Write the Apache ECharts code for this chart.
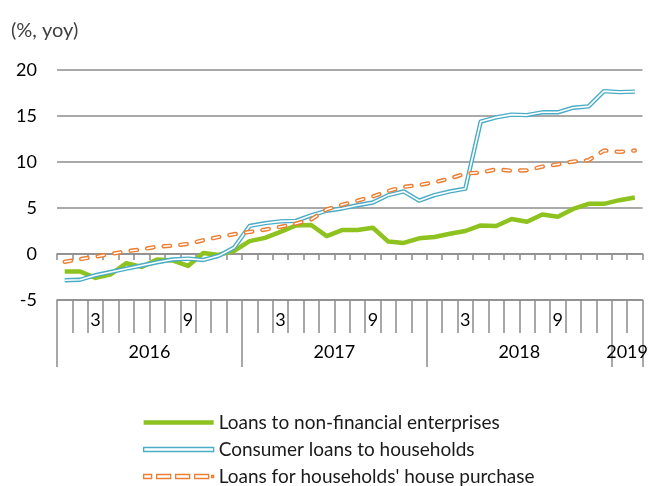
<!DOCTYPE html>
<html>
<head>
<meta charset="utf-8">
<script src="https://cdn.jsdelivr.net/npm/echarts@6/dist/echarts.min.js"></script>
<style>
  html, body { margin: 0; padding: 0; background: #ffffff; }
  #chart { width: 651px; height: 486px; }
</style>
</head>
<body>
<div id="chart"></div>
<script>
// ---- data ----
const categories = [
  '2016-01','2016-02','2016-03','2016-04','2016-05','2016-06','2016-07','2016-08','2016-09','2016-10','2016-11','2016-12',
  '2017-01','2017-02','2017-03','2017-04','2017-05','2017-06','2017-07','2017-08','2017-09','2017-10','2017-11','2017-12',
  '2018-01','2018-02','2018-03','2018-04','2018-05','2018-06','2018-07','2018-08','2018-09','2018-10','2018-11','2018-12',
  '2019-01','2019-02'
];
const years = ['2016', '2017', '2018', '2019'];
const monthTickLabels = ['3', '9'];
const yMin = -5, yMax = 20, yStep = 5;
const unitLabel = '(%, yoy)';

const seriesNames = [
  'Loans to non-financial enterprises',
  'Consumer loans to households',
  "Loans for households' house purchase"
];
const enterprises = [
  -1.9, -1.9, -2.6, -2.2, -1.0, -1.4, -0.6, -0.7, -1.3, 0.1, -0.1, 0.35,
  1.4, 1.75, 2.4, 3.1, 3.15, 1.95, 2.6, 2.6, 2.85, 1.35, 1.2, 1.7,
  1.85, 2.2, 2.5, 3.1, 3.05, 3.8, 3.5, 4.3, 4.05, 4.9, 5.45, 5.45,
  5.85, 6.15
];
const consumer = [
  -2.85, -2.8, -2.3, -1.95, -1.6, -1.25, -0.9, -0.6, -0.5, -0.65, -0.2, 0.7,
  3.05, 3.35, 3.55, 3.6, 4.2, 4.7, 4.95, 5.3, 5.6, 6.4, 6.8, 5.8,
  6.4, 6.8, 7.1, 14.4, 14.85, 15.15, 15.1, 15.4, 15.4, 15.9, 16.05, 17.7,
  17.6, 17.65
];
const housePurchase = [
  -0.85, -0.55, -0.3, 0.0, 0.3, 0.5, 0.8, 0.9, 1.1, 1.5, 1.85, 2.15,
  2.4, 2.65, 2.95, 3.3, 3.75, 4.85, 5.35, 5.8, 6.25, 6.85, 7.3, 7.5,
  7.8, 8.2, 8.75, 8.85, 9.2, 9.05, 9.1, 9.5, 9.75, 10.05, 10.2, 11.25,
  11.1, 11.25
];

// ---- derived year spans (from categories) ----
const yearStart = {}, yearCount = {};
categories.forEach((c, i) => {
  const y = c.slice(0, 4);
  if (!(y in yearStart)) { yearStart[y] = i; yearCount[y] = 0; }
  yearCount[y]++;
});
const yearBoundaries = years.map(y => yearStart[y]).concat([categories.length]);
const yearCenters = years.map(y => yearStart[y] + yearCount[y] / 2);

const C_GREEN = '#8DC21F', C_TEAL = '#4BACC6', C_ORANGE = '#ED7D31', C_GRID = '#8C8C8C';
const FONT = 'Lato';

const chart = echarts.init(document.getElementById('chart'), null, { renderer: 'canvas' });
chart.setOption({
  animation: false,
  backgroundColor: '#ffffff',
  textStyle: { fontFamily: FONT },
  title: {
    text: unitLabel, left: 11, top: 21, padding: 0,
    textStyle: { fontFamily: FONT, fontSize: 20, fontWeight: 'normal', color: '#404040' }
  },
  grid: { left: 57, right: 6, top: 70, bottom: 186, containLabel: false },
  legend: {
    orient: 'vertical', left: 143, top: 413, height: 100, padding: 0, itemGap: 8,
    itemWidth: 70, itemHeight: 5, symbolKeepAspect: true,
    textStyle: { fontFamily: FONT, fontSize: 19, color: '#1a1a1a' },
    data: [
      { name: seriesNames[0], icon: 'path://M0,0H70V4.5H0Z', itemStyle: { color: C_GREEN, borderWidth: 0 } },
      { name: seriesNames[1], icon: 'path://M0,0H70V4H0Z', itemStyle: { color: '#ffffff', borderColor: C_TEAL, borderWidth: 1.3 } },
      { name: seriesNames[2], icon: 'path://M0,0H8V4H0Z M13,0H27V4H13Z M32,0H46V4H32Z M51,0H65V4H51Z M68,1H70V3H68Z',
        itemStyle: { color: '#ffffff', borderColor: C_ORANGE, borderWidth: 1.3 } }
    ]
  },
  xAxis: [
    {
      type: 'category', data: categories, boundaryGap: true, position: 'bottom',
      axisLine: { onZero: true, lineStyle: { color: C_GRID, width: 1.5 } },
      axisTick: { show: true, interval: 0, length: 6, lineStyle: { color: C_GRID, width: 1.5 } },
      axisLabel: { show: false },
      splitLine: { show: false }
    },
    {
      type: 'category', data: categories, boundaryGap: true, position: 'bottom',
      axisLine: { onZero: false, lineStyle: { color: C_GRID, width: 1.5 } },
      axisTick: { show: true, interval: 0, length: 33, lineStyle: { color: C_GRID, width: 1.5 } },
      axisLabel: {
        show: true, interval: 0, margin: 11, fontFamily: FONT, fontSize: 18, color: '#000',
        formatter: v => { const m = String(parseInt(v.slice(5), 10)); return monthTickLabels.indexOf(m) >= 0 ? m : ''; }
      },
      splitLine: { show: false }
    },
    {
      type: 'value', min: 0, max: categories.length, position: 'bottom',
      axisLine: { onZero: false, show: false },
      axisTick: { show: true, customValues: yearBoundaries, length: 67, lineStyle: { color: C_GRID, width: 1.5 } },
      axisLabel: {
        show: true, customValues: yearCenters, margin: 43, fontFamily: FONT, fontSize: 18, color: '#000',
        formatter: v => { const k = yearCenters.indexOf(v); return k >= 0 ? years[k] : ''; }
      },
      splitLine: { show: false }
    }
  ],
  yAxis: {
    type: 'value', min: yMin, max: yMax, interval: yStep,
    axisLine: { show: false }, axisTick: { show: false },
    axisLabel: { fontFamily: FONT, fontSize: 18, color: '#000', margin: 20 },
    splitLine: { show: true, lineStyle: { color: C_GRID, width: 1.5 } }
  },
  series: [
    {
      name: seriesNames[0], type: 'line', data: enterprises, xAxisIndex: 0, symbol: 'none',
      lineStyle: { color: C_GREEN, width: 4.5, join: 'round' }, itemStyle: { color: C_GREEN }, z: 3
    },
    {
      name: seriesNames[1], type: 'line', data: consumer, xAxisIndex: 0, symbol: 'none',
      lineStyle: { color: C_TEAL, width: 4.4, join: 'round' }, itemStyle: { color: C_TEAL }, z: 4
    },
    {
      name: 'consumer-inner', type: 'line', data: consumer, xAxisIndex: 0, symbol: 'none',
      lineStyle: { color: '#ffffff', width: 1.6, join: 'round' }, z: 5, silent: true
    },
    {
      name: seriesNames[2], type: 'line', data: housePurchase, xAxisIndex: 0, symbol: 'none',
      lineStyle: { color: C_ORANGE, width: 4.3, type: [6.5, 10.2], cap: 'round', join: 'round' }, itemStyle: { color: C_ORANGE }, z: 6
    },
    {
      name: 'house-inner', type: 'line', data: housePurchase, xAxisIndex: 0, symbol: 'none',
      lineStyle: { color: '#ffffff', width: 1.5, type: [6.5, 10.2], cap: 'round', join: 'round' }, z: 7, silent: true
    }
  ]
});
</script>
</body>
</html>
